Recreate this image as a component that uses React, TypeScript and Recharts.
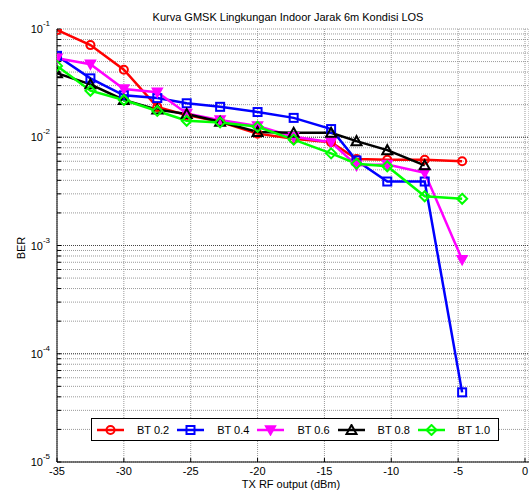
import { LineChart, Line, XAxis, YAxis, CartesianGrid, Legend, ReferenceLine } from 'recharts'

const FONT = '"Liberation Sans", Arial, sans-serif'

// TX RF output (dBm)
const txPower = [-35, -32.5, -30, -27.5, -25.3, -22.8, -20, -17.3, -14.5, -12.6, -10.3, -7.5, -4.7]

// BER per BT value
const bt02 = [0.098, 0.071, 0.042, 0.019, 0.016, 0.0139, 0.0108, 0.0097, 0.009, 0.0063, 0.0062, 0.0062, 0.006]
const bt04 = [0.0565, 0.035, 0.0244, 0.023, 0.0206, 0.0191, 0.0171, 0.0151, 0.0119, 0.0061, 0.0039, 0.0039, 0.000044]
const bt06 = [0.0537, 0.0473, 0.0279, 0.026, 0.0166, 0.0144, 0.0127, 0.0101, 0.009, 0.0055, 0.0056, 0.0047, 0.00074]
const bt08 = [0.039, 0.0308, 0.0221, 0.018, 0.0164, 0.0139, 0.0112, 0.011, 0.011, 0.0092, 0.0076, 0.0055, null]
const bt10 = [0.0456, 0.0269, 0.0221, 0.0175, 0.0142, 0.0137, 0.0125, 0.0095, 0.0071, 0.0057, 0.0054, 0.00285, 0.0027]

const xTicks = [-35, -30, -25, -20, -15, -10, -5, 0]
const decades = [1e-5, 1e-4, 1e-3, 1e-2, 1e-1]
const minorSteps = [1, 2, 3, 4, 5, 6, 7, 8, 9]

const yTicks = decades
  .slice(0, -1)
  .flatMap((d) => minorSteps.map((m) => Number((d * m).toPrecision(3))))
  .concat([1e-1])

const data = txPower.map((x, i) => ({
  x,
  bt02: bt02[i],
  bt04: bt04[i],
  bt06: bt06[i],
  bt08: bt08[i],
  bt10: bt10[i],
}))

type Shape = 'circle' | 'square' | 'triDown' | 'triUp' | 'diamond'

const series: { key: string; name: string; color: string; shape: Shape }[] = [
  { key: 'bt02', name: 'BT 0.2', color: '#ff0000', shape: 'circle' },
  { key: 'bt04', name: 'BT 0.4', color: '#0000ff', shape: 'square' },
  { key: 'bt06', name: 'BT 0.6', color: '#ff00ff', shape: 'triDown' },
  { key: 'bt08', name: 'BT 0.8', color: '#000000', shape: 'triUp' },
  { key: 'bt10', name: 'BT 1.0', color: '#00ff00', shape: 'diamond' },
]

function Marker({ cx, cy, color, shape }: { cx: number; cy: number; color: string; shape: Shape }) {
  if (shape === 'circle') {
    return <circle cx={cx} cy={cy} r={4} fill="none" stroke={color} strokeWidth={2} />
  }
  if (shape === 'square') {
    return <rect x={cx - 4} y={cy - 4} width={8} height={8} fill="none" stroke={color} strokeWidth={2} />
  }
  if (shape === 'triDown') {
    const pts = `${cx - 5},${cy - 4} ${cx + 5},${cy - 4} ${cx},${cy + 5}`
    return <polygon points={pts} fill={color} stroke={color} strokeWidth={1.5} />
  }
  if (shape === 'triUp') {
    const pts = `${cx - 5},${cy + 4} ${cx + 5},${cy + 4} ${cx},${cy - 5}`
    return <polygon points={pts} fill="none" stroke={color} strokeWidth={2} />
  }
  const pts = `${cx},${cy - 5} ${cx + 5},${cy} ${cx},${cy + 5} ${cx - 5},${cy}`
  return <polygon points={pts} fill="none" stroke={color} strokeWidth={2} />
}

function YTick(props: any) {
  const { x, y, payload } = props
  const lg = Math.log10(payload.value)
  const e = Math.round(lg)
  if (Math.abs(lg - e) > 1e-6) return <g />
  return (
    <text x={x} y={y} textAnchor="end" fontSize={11} fill="#000" fontFamily={FONT}>
      <tspan dy={4}>10</tspan>
      <tspan dy={-7} fontSize={8}>{e}</tspan>
    </text>
  )
}

function LegendBox() {
  return (
    <div
      style={{
        boxSizing: 'border-box',
        width: 408,
        height: 23,
        border: '1px solid #000',
        background: '#fff',
        display: 'flex',
        alignItems: 'center',
        paddingLeft: 5,
        fontFamily: FONT,
        fontSize: 11,
      }}
    >
      {series.map((s) => (
        <div key={s.key} style={{ display: 'flex', alignItems: 'center', width: 81 }}>
          <svg width={27} height={12} style={{ display: 'block' }}>
            <line x1={0} y1={6} x2={27} y2={6} stroke={s.color} strokeWidth={2.5} />
            <Marker cx={13.5} cy={6} color={s.color} shape={s.shape} />
          </svg>
          <span style={{ marginLeft: 13 }}>{s.name}</span>
        </div>
      ))}
    </div>
  )
}

export default function App() {
  return (
    <div style={{ position: 'absolute', left: 0, top: 0, width: 529, height: 491, background: '#fff', overflow: 'hidden' }}>
      <LineChart width={529} height={491} data={data} margin={{ top: 29, right: 0, bottom: 0, left: 0 }}>
        <CartesianGrid stroke="#999" strokeDasharray="1 1" />
        {decades.slice(1, -1).map((d) => (
          <ReferenceLine key={d} y={d} stroke="#444" strokeDasharray="1 1" />
        ))}
        <XAxis
          dataKey="x"
          type="number"
          domain={[-35, 0.3]}
          ticks={xTicks}
          interval={0}
          allowDataOverflow
          height={29}
          tickSize={-4}
          tickMargin={9}
          axisLine={{ stroke: '#000' }}
          tickLine={{ stroke: '#000' }}
          tick={{ fill: '#000', fontSize: 11, fontFamily: FONT }}
        />
        <XAxis
          xAxisId="top"
          orientation="top"
          type="number"
          domain={[-35, 0.3]}
          ticks={xTicks}
          interval={0}
          allowDataOverflow
          height={0}
          tickSize={-4}
          axisLine={{ stroke: '#000' }}
          tickLine={{ stroke: '#000' }}
          tick={() => <g />}
        />
        <YAxis
          type="number"
          scale="log"
          domain={[1e-5, 1e-1]}
          ticks={yTicks}
          interval={0}
          allowDataOverflow
          width={57}
          tickSize={-4}
          tickMargin={11}
          axisLine={{ stroke: '#000' }}
          tickLine={{ stroke: '#000' }}
          tick={YTick}
        />
        <Legend
          layout="horizontal"
          verticalAlign="middle"
          align="center"
          wrapperStyle={{ left: 91, top: 418, width: 408, height: 23 }}
          content={() => <LegendBox />}
        />
        {series.map((s) => (
          <Line
            key={s.key}
            dataKey={s.key}
            name={s.name}
            stroke={s.color}
            strokeWidth={2.5}
            isAnimationActive={false}
            connectNulls={false}
            dot={(p: any) =>
              p.cx == null || p.cy == null || p.value == null ? (
                <g key={`${s.key}-${p.index}`} />
              ) : (
                <Marker key={`${s.key}-${p.index}`} cx={p.cx} cy={p.cy} color={s.color} shape={s.shape} />
              )
            }
          />
        ))}
      </LineChart>
      <div
        style={{
          position: 'absolute',
          left: 0,
          top: 11,
          width: 576,
          textAlign: 'center',
          fontFamily: FONT,
          fontSize: 11,
          lineHeight: '13px',
          color: '#000',
        }}
      >
        Kurva GMSK Lingkungan Indoor Jarak 6m Kondisi LOS
      </div>
      <div
        style={{
          position: 'absolute',
          left: 0,
          top: 478,
          width: 582,
          textAlign: 'center',
          fontFamily: FONT,
          fontSize: 11,
          lineHeight: '13px',
          color: '#000',
        }}
      >
        TX RF output (dBm)
      </div>
      <div
        style={{
          position: 'absolute',
          left: 21,
          top: 248,
          transform: 'translate(-50%, -50%) rotate(-90deg)',
          fontFamily: FONT,
          fontSize: 11,
          lineHeight: '13px',
          color: '#000',
          whiteSpace: 'nowrap',
        }}
      >
        BER
      </div>
    </div>
  )
}
